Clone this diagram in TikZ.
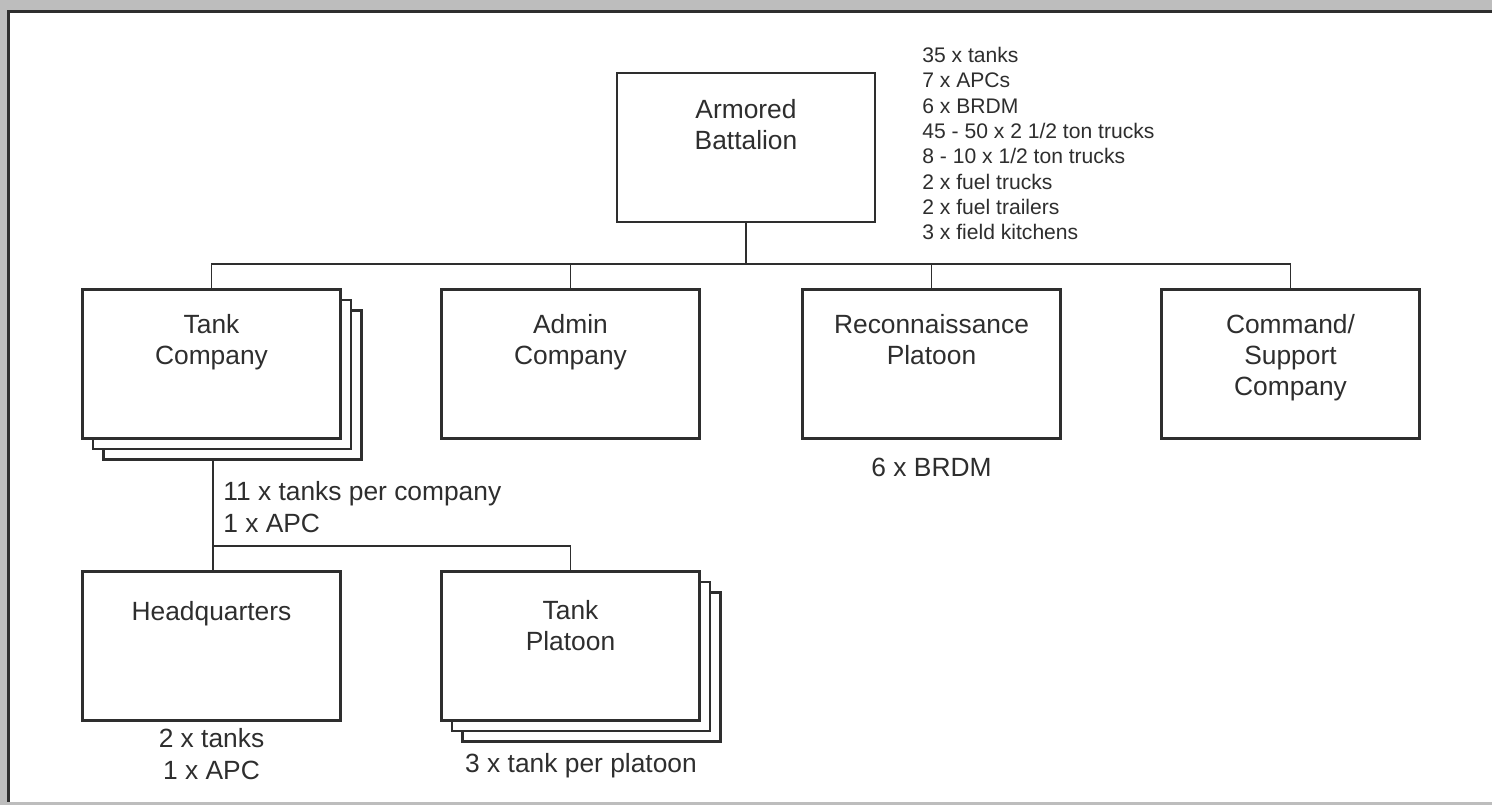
\documentclass[tikz,border=0pt]{standalone}
\usepackage{fontspec}
\setmainfont{Liberation Sans}
\usetikzlibrary{positioning, calc, shadows}

\definecolor{scangray}{HTML}{BDBDBD}
\definecolor{ink}{HTML}{2E2E2E}

\begin{document}
\begin{tikzpicture}[
	box/.style={rectangle, draw=ink, line width=1.3pt, fill=white, minimum width=5.16cm, minimum height=2.98cm, inner sep=0pt, outer sep=0pt},
	stack/.style={copy shadow={shadow xshift=0.42cm, shadow yshift=-0.42cm, draw=ink, line width=1.3pt},
		copy shadow={shadow xshift=0.21cm, shadow yshift=-0.21cm, draw=ink, line width=1.3pt}},
	boxtext/.style={anchor=north, yshift=-0.5cm, inner sep=0pt, align=center, text=ink, font=\fontsize{15}{17.6}\selectfont},
	note/.style={inner sep=0pt, align=center, text=ink, font=\fontsize{15}{18}\selectfont},
	stats/.style={inner sep=0pt, align=left, text=ink, font=\fontsize{12}{14.4}\selectfont},
	link/.style={draw=ink, line width=1.1pt}
	]
	\useasboundingbox (0,0) rectangle (29.84,-16.1);
	% scanned page frame
	\fill[scangray] (0,0) rectangle (29.84,-16.1);
	\fill[white] (0.16,-0.22) rectangle (29.84,-16.03);
	\draw[ink, line width=1.2pt] (0.17,-16.03) |- (29.84,-0.23);
	
	% battalion
	\node[box, label={[boxtext, yshift=-0.03cm]north:{Armored\\Battalion}}] (bn) at (14.92,-2.95) {};
	\node[stats, anchor=north west] (kit) at (18.44,-0.94) {35 x tanks\\7 x APCs\\6 x BRDM\\45 - 50 x 2 1/2 ton trucks\\8 - 10 x 1/2 ton trucks\\2 x fuel trucks\\2 x fuel trailers\\3 x field kitchens};
	
	% companies
	\node[box, stack, label={[boxtext]north:{Tank\\Company}}] (tc) at (4.23,-7.28) {};
	\node[box, right=2.02cm of tc, label={[boxtext]north:{Admin\\Company}}] (ac) {};
	\node[box, right=2.06cm of ac, label={[boxtext]north:{Reconnaissance\\Platoon}}] (rp) {};
	\node[box, right=2.02cm of rp, label={[boxtext]north:{Command/\\Support\\Company}}] (cs) {};
	\node[note, below=0.38cm of rp] (rpn) {6 x BRDM};
	
	% bus under the battalion
	\coordinate (bus) at (0,-5.28);
	\draw[link] (bn.south) -- (bn.south |- bus);
	\draw[link] (tc.north) |- (cs.north |- bus) -- (cs.north);
	\draw[link] (ac.north) -- (ac.north |- bus);
	\draw[link] (rp.north) -- (rp.north |- bus);
	
	% tank company breakdown
	\node[box, below=2.66cm of tc, label={[boxtext, yshift=-0.1cm]north:{Headquarters}}] (hq) {};
	\node[box, stack, right=2.02cm of hq, label={[boxtext, yshift=-0.08cm]north:{Tank\\Platoon}}] (tp) {};
	\node[note, anchor=north west, align=left] (tcn) at ($(tc.south)+(0.23,-0.86)$) {11 x tanks per company\\1 x APC};
	\node[note, below=0.16cm of hq] (hqn) {2 x tanks\\1 x APC};
	\node[note, anchor=north] (tpn) at ($(tp.south)+(0.21,-0.66)$) {3 x tank per platoon};
	
	\coordinate (tcbase) at ($(tc.south)+(0.03,-0.42)$);
	\coordinate (bus2) at (0,-10.92);
	\draw[link] (tcbase) -- (tcbase |- hq.north);
	\draw[link] (tp.north) |- (tcbase |- bus2);
\end{tikzpicture}
\end{document}
